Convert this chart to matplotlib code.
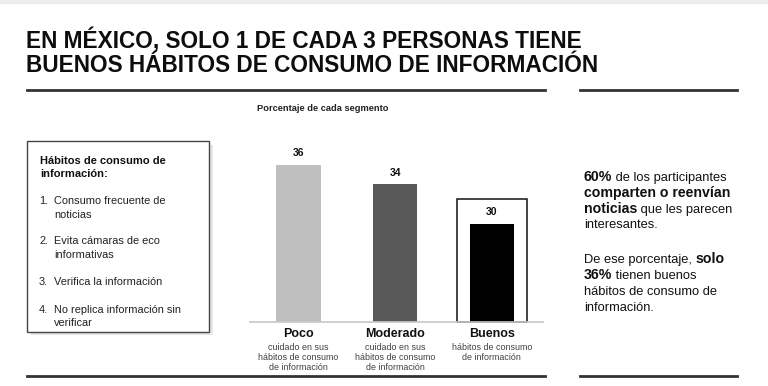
import matplotlib.pyplot as plt
from matplotlib.patches import Rectangle
from matplotlib.lines import Line2D
import matplotlib.transforms as mtransforms

# data
categorias = ["Poco", "Moderado", "Buenos"]
subtitulos = ["cuidado en sus\nhábitos de consumo\nde información",
              "cuidado en sus\nhábitos de consumo\nde información",
              "hábitos de consumo\nde información"]
valores = [36, 34, 30]
colores = ["#bfbfbf", "#595959", "#000000"]

titulo = ["EN MÉXICO, SOLO 1 DE CADA 3 PERSONAS TIENE",
          "BUENOS HÁBITOS DE CONSUMO DE INFORMACIÓN"]
habitos_titulo = ["Hábitos de consumo de", "información:"]
habitos = [("1.", ["Consumo frecuente de", "noticias"]),
           ("2.", ["Evita cámaras de eco", "informativas"]),
           ("3.", ["Verifica la información"]),
           ("4.", ["No replica información sin", "verificar"])]

texto_derecha = [
    [("60%", True), (" de los participantes", False)],
    [("comparten o reenvían", True)],
    [("noticias", True), (" que les parecen", False)],
    [("interesantes.", False)],
    None,
    [("De ese porcentaje, ", False), ("solo", True)],
    [("36%", True), (" tienen buenos", False)],
    [("hábitos de consumo de", False)],
    [("información.", False)],
]

plt.rcParams['font.family'] = ['Liberation Sans', 'DejaVu Sans']

W, H = 768, 386
fig = plt.figure(figsize=(W / 100, H / 100), dpi=100)
fig.patch.set_facecolor('white')


def fx(x):
    return x / W


def fy(y):
    return 1 - y / H


# thin grey strip at the very top
fig.patches.append(Rectangle((0, fy(3)), 1, 3 / H, transform=fig.transFigure,
                             color='#ededed', zorder=0))

# title
for linea, yb in zip(titulo, (48, 72)):
    fig.text(fx(26), fy(yb), linea, fontsize=16.3, fontweight='bold',
             va='baseline', ha='left', color='#0d0d0d')

# horizontal rules
for y in (90, 376):
    fig.lines.append(Line2D([fx(27), fx(545)], [fy(y), fy(y)], transform=fig.transFigure,
                            color='#333333', lw=2))
    fig.lines.append(Line2D([fx(580), fx(737)], [fy(y), fy(y)], transform=fig.transFigure,
                            color='#333333', lw=2))

# left box with shadow
fig.patches.append(Rectangle((fx(31), fy(335)), fx(182), (335 - 145) / H,
                             transform=fig.transFigure, facecolor='#e6e6e6',
                             edgecolor='none', zorder=1))
fig.patches.append(Rectangle((fx(27), fy(332)), fx(182), (332 - 141) / H,
                             transform=fig.transFigure, facecolor='white',
                             edgecolor='#444444', lw=1, zorder=2))
for linea, yb in zip(habitos_titulo, (164, 177)):
    fig.text(fx(40), fy(yb), linea, fontsize=8, fontweight='bold',
             va='baseline', ha='left', zorder=3, color='#111111')
item_y = [204, 244, 285, 313]
for (num, lineas), y in zip(habitos, item_y):
    fig.text(fx(39), fy(y), num, fontsize=7.9, va='baseline', ha='left', zorder=3,
             color='#222222')
    for k, txt in enumerate(lineas):
        fig.text(fx(54), fy(y + 13.5 * k), txt, fontsize=7.9, va='baseline', ha='left',
                 zorder=3, color='#222222')

# bar chart
ax = fig.add_axes([fx(250), fy(322), fx(293), (322 - 140) / H])
x = range(len(valores))
ax.bar(x, valores, width=0.46, color=colores, zorder=2)
ax.set_xlim(-0.5, 2.53)
ax.set_ylim(20, 38.5)
for s in ('top', 'right', 'left'):
    ax.spines[s].set_visible(False)
ax.spines['bottom'].set_color('#c8c8c8')
ax.spines['bottom'].set_linewidth(1.2)
ax.set_xticks([])
ax.set_yticks([])
ax.patch.set_alpha(0)

# frame around the last bar
ax.add_patch(Rectangle((2 - 0.36, 20), 0.72, valores[2] - 20 + 2.5, fill=False,
                       edgecolor='#111111', lw=1.1, zorder=1, clip_on=False))

for i, v in enumerate(valores):
    ax.annotate(str(v), (i, v), xytext=(0, 4.5), textcoords='offset points',
                ha='center', va='bottom', fontsize=7.5, fontweight='bold', color='#111111')

trans = mtransforms.blended_transform_factory(ax.transData, fig.transFigure)
for i, (c, s) in enumerate(zip(categorias, subtitulos)):
    ax.text(i, fy(337), c, transform=trans, ha='center', va='baseline', fontsize=9,
            fontweight='bold', color='#111111')
    for k, ln in enumerate(s.split('\n')):
        ax.text(i, fy(350 + 10 * k), ln, transform=trans, ha='center', va='baseline',
                fontsize=6.4, color='#404040')

fig.text(fx(323), fy(111), "Porcentaje de cada segmento", fontsize=6.7, fontweight='bold',
         ha='center', va='baseline', color='#222222')

# right side text with mixed bold runs
fig.canvas.draw()
renderer = fig.canvas.get_renderer()
bases = [181, 197, 213, 228, None, 263, 279, 295, 311]
for linea, yb in zip(texto_derecha, bases):
    if linea is None:
        continue
    xpos = 584
    for txt, negrita in linea:
        t = fig.text(fx(xpos), fy(yb), txt, fontsize=10.2 if negrita else 9.3,
                     ha='left', va='baseline',
                     fontweight='bold' if negrita else 'normal', color='#111111')
        bb = t.get_window_extent(renderer=renderer)
        xpos += bb.width

fig.savefig('out.png', dpi=100)
